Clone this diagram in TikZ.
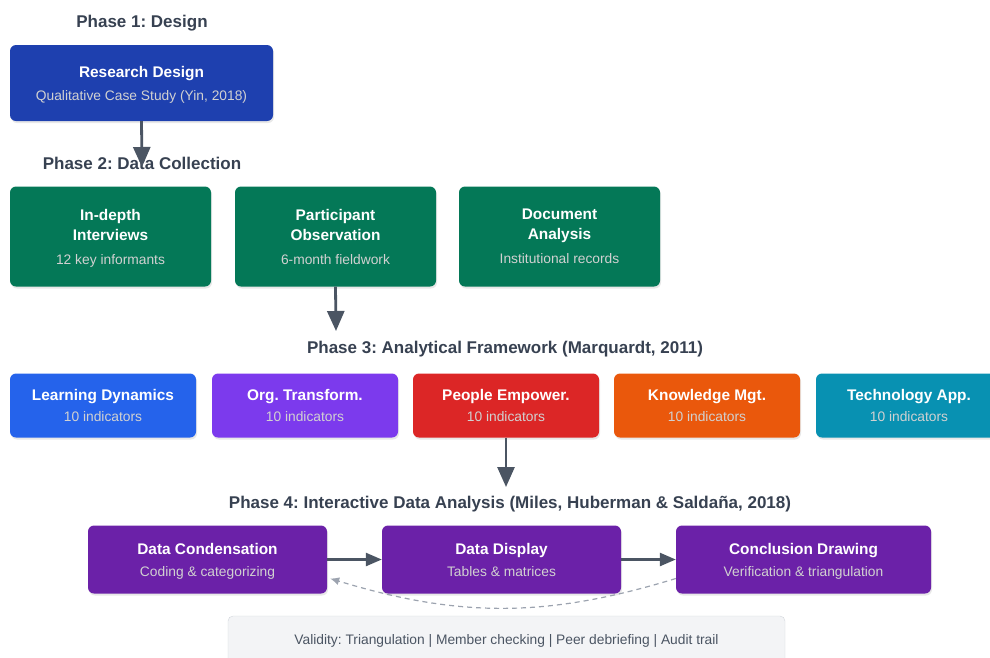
\documentclass[tikz,border=0pt]{standalone}
\usepackage{fontspec}
\setmainfont{Liberation Sans}
\usepackage{xcolor}
\usetikzlibrary{arrows.meta,shadows}
\frenchspacing

\definecolor{phasegray}{HTML}{374151}
\definecolor{arrowgray}{HTML}{4B5563}
\definecolor{dashgray}{HTML}{9CA3AF}
\definecolor{designblue}{HTML}{1E40AF}
\definecolor{collectgreen}{HTML}{047857}
\definecolor{ldblue}{HTML}{2563EB}
\definecolor{otviolet}{HTML}{7C3AED}
\definecolor{pered}{HTML}{DC2626}
\definecolor{kmorange}{HTML}{EA580C}
\definecolor{tacyan}{HTML}{0891B2}
\definecolor{analysispurple}{HTML}{6B21A8}
\definecolor{validfill}{HTML}{F3F4F6}
\definecolor{validline}{HTML}{D1D5DB}

% second line of a stage box: lighter and regular weight
\newcommand{\subline}[1]{{\mdseries\fontsize{13.8}{16}\selectfont\color{white!82!black}#1}}

\begin{document}
\begin{tikzpicture}[x=1pt,y=-1pt,
    phase/.style={text=phasegray, font=\bfseries\fontsize{17}{20}\selectfont},
    stage/.style={rectangle, rounded corners=6pt, text=white, align=center, text depth=-2.2pt,
        font=\bfseries\fontsize{15.4}{20}\selectfont,
        drop shadow={opacity=0.18, shadow xshift=1pt, shadow yshift=-2pt}},
    flow/.style={draw=arrowgray, line width=2.8pt, -{Triangle[length=20pt,width=17pt]}},
    nextstep/.style={draw=arrowgray, line width=2.5pt, -{Triangle[length=16pt,width=13pt]}},
    flowback/.style={draw=dashgray, dash pattern=on 5pt off 4pt, line width=1.2pt,
        -{Latex[length=9pt,width=8pt]}}]
    \useasboundingbox (0,0) rectangle (990,657);

    % phase 1
    \node[phase] (p1) at (142,23.5) {Phase 1: Design};
    \node[stage, fill=designblue, minimum width=263pt, minimum height=76pt] (rd) at (141.5,83)
        {Research Design\\[3pt]\subline{Qualitative Case Study (Yin, 2018)}};

    % phase 2
    \node[phase] (p2) at (142,163) {Phase 2: Data Collection};
    \coordinate (p2top) at (142,167);
    \node[stage, fill=collectgreen, minimum width=201pt, minimum height=100pt] (iv) at (110.5,236.5)
        {In-depth\\Interviews\\[4pt]\subline{12 key informants}};
    \node[stage, fill=collectgreen, minimum width=201pt, minimum height=100pt] (po) at (335.5,236.5)
        {Participant\\Observation\\[4pt]\subline{6-month fieldwork}};
    \node[stage, fill=collectgreen, minimum width=201pt, minimum height=100pt] (da) at (559.5,236.5)
        {Document\\Analysis\\[4pt]\subline{Institutional records}};
    \draw[flow] (rd.south) -- (p2top);

    % phase 3
    \node[phase] (p3) at (505,349.5) {Phase 3: Analytical Framework (Marquardt, 2011)};
    \coordinate (p3top) at (336,331);
    \draw[flow] (po.south) -- (p3top);
    \foreach \x/\col/\name/\lbl in {103/ldblue/ld/Learning Dynamics,
                                    305/otviolet/ot/Org. Transform.,
                                    506/pered/pe/People Empower.,
                                    707/kmorange/km/Knowledge Mgt.,
                                    909/tacyan/ta/Technology App.}
        \node[stage, fill=\col, minimum width=186pt, minimum height=64pt] (\name) at (\x,405.5)
            {\lbl\\[1pt]\subline{10 indicators}};

    % phase 4
    \node[phase] (p4) at (510,504.5) {Phase 4: Interactive Data Analysis (Miles, Huberman \& Saldaña, 2018)};
    \coordinate (p4top) at (506,487);
    \draw[flow] (pe.south) -- (p4top);
    \node[stage, fill=analysispurple, minimum width=239pt, minimum height=68pt] (dc) at (207.5,559.5)
        {Data Condensation\\[2pt]\subline{Coding \& categorizing}};
    \node[stage, fill=analysispurple, minimum width=239pt, minimum height=68pt] (dd) at (501.5,559.5)
        {Data Display\\[2pt]\subline{Tables \& matrices}};
    \node[stage, fill=analysispurple, minimum width=255pt, minimum height=68pt] (cd) at (803.5,559.5)
        {Conclusion Drawing\\[2pt]\subline{Verification \& triangulation}};
    \draw[nextstep] (dc.east) -- (dd.west);
    \draw[nextstep] (dd.east) -- (cd.west);
    \draw[flowback] ([yshift=-19pt]cd.west) to[bend left=17] ([yshift=-19pt,xshift=3pt]dc.east);

    % validity strip
    \node[rectangle, rounded corners=5pt, draw=validline, fill=validfill, text=arrowgray,
        minimum width=557pt, minimum height=50pt, font=\fontsize{13.8}{16}\selectfont] (val) at (506.5,641)
        {Validity: Triangulation | Member checking | Peer debriefing | Audit trail};
\end{tikzpicture}
\end{document}
